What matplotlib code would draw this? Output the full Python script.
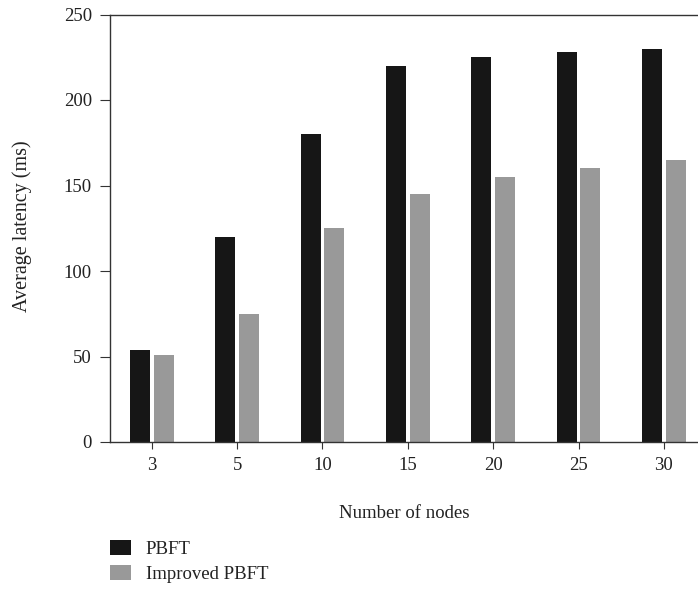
import matplotlib.pyplot as plt
import numpy as np

plt.rcParams['font.family'] = ['Liberation Serif', 'DejaVu Serif']

# Dados
nos = ["3", "5", "10", "15", "20", "25", "30"]
latenciaPBFT = [54, 120, 180, 220, 225, 228, 230]
latenciaMelhorado = [51, 75, 125, 145, 155, 160, 165]

W, H = 698, 593
fig = plt.figure(figsize=(W / 100, H / 100), dpi=100)
ax = fig.add_axes([110 / W, 1 - 442 / H, (698 - 110) / W, (442 - 14.5) / H])

x = np.arange(len(nos))
largura = 0.235
b1 = ax.bar(x - 0.14, latenciaPBFT, largura, color="#161616", label="PBFT")
b2 = ax.bar(x + 0.14, latenciaMelhorado, largura, color="#999999", label="Improved PBFT")

ax.set_xlim(-0.49, 6.4)
ax.set_ylim(0, 250)
ax.set_xticks(x)
ax.set_xticklabels(nos)
ax.set_yticks([0, 50, 100, 150, 200, 250])
ax.tick_params(labelsize=13.5, color="#333333", labelcolor="#222222")
ax.tick_params(axis="y", length=7, pad=6)
ax.tick_params(axis="x", length=5, pad=6)
ax.spines["right"].set_visible(False)
for s in ["left", "bottom", "top"]:
    ax.spines[s].set_color("#333333")
    ax.spines[s].set_linewidth(1.0)

fig.text(404 / W, 1 - 514 / H, "Number of nodes", ha="center", va="center",
         fontsize=13.5, color="#222222")
fig.text(22 / W, 1 - 226 / H, "Average latency (ms)", ha="center", va="center",
         rotation=90, fontsize=14.5, color="#222222")

leg = fig.legend(handles=[b1, b2], loc="upper left", bbox_to_anchor=(93 / W, 1 - 523 / H),
                 frameon=False, fontsize=13.5, handlelength=1.15, handleheight=0.85,
                 handletextpad=0.75, labelspacing=0.4)
for t in leg.get_texts():
    t.set_color("#222222")

plt.savefig("out.png", dpi=100)
